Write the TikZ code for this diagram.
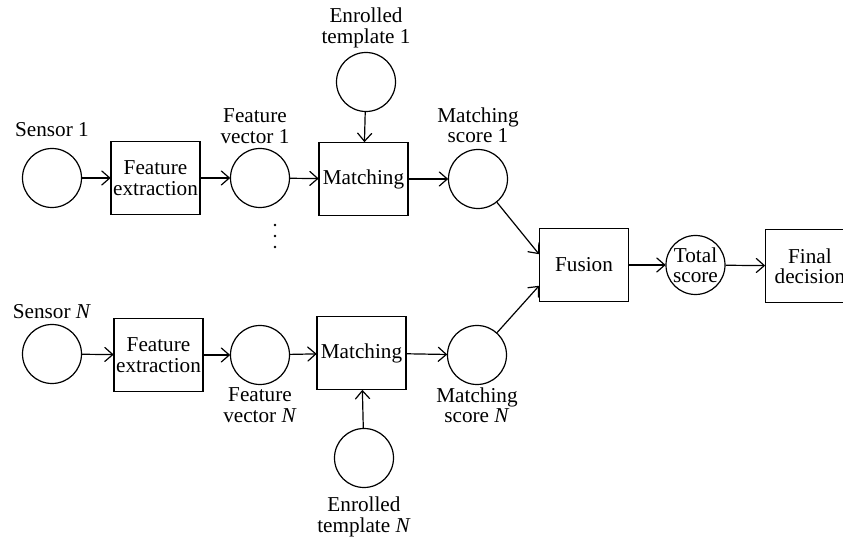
\documentclass[tikz,border=0pt]{standalone}
\usepackage{fontspec}
\setmainfont{Liberation Serif}
\usetikzlibrary{arrows.meta}
\begin{document}
\begin{tikzpicture}[x=0.5pt,y=-0.5pt,
  every node/.style={font=\fontsize{10.6}{10.2}\selectfont, align=center, inner sep=0pt},
  proc/.style={draw, line width=0.6pt, minimum width=44.5pt, minimum height=36.5pt},
  dot/.style={draw, circle, line width=0.6pt, minimum size=29.5pt},
  pt/.style={fill, circle, minimum size=1.4pt},
  lbl/.style={},
  conn/.style={line width=0.6pt},
  arr/.style={conn, -{Straight Barb[length=4pt,width=7pt,line width=0.6pt,round]}}]
\useasboundingbox (0,0) rectangle (843,539);
% row 1
\node[dot] (s1) at (52,178) {};
\node[proc] (fe1) at (155.5,178) {Feature\\extraction};
\node[dot] (fv1) at (260,178) {};
\node[proc] (m1) at (363.5,179) {Matching};
\node[dot] (ms1) at (478,179) {};
\node[dot] (et1) at (366,82) {};
% row N
\node[dot] (sN) at (52,354) {};
\node[proc] (feN) at (158.5,355) {Feature\\extraction};
\node[dot] (fvN) at (260,355) {};
\node[proc] (mN) at (361.5,353) {Matching};
\node[dot] (msN) at (477,355) {};
\node[dot] (etN) at (364,458) {};
% right part
\node[proc] (fu) at (584,265) {Fusion};
\node[dot] (ts) at (695.5,265) {Total\\score};
\node[proc] (fd) at (810,266) {Final\\decision};
% labels
\node[lbl] (ls1) at (52,130) {Sensor 1};
\node[lbl] (lsN) at (52,312) {Sensor \textit{N}};
\node[lbl] (lfv1) at (255,126) {Feature\\vector 1};
\node[lbl] (lfvN) at (260,405) {Feature\\vector \textit{N}};
\node[lbl] (let1) at (366,28) {Enrolled\\template 1};
\node[lbl] (letN) at (364,517) {Enrolled\\template \textit{N}};
\node[lbl] (lms1) at (478,125) {Matching\\score 1};
\node[lbl] (lmsN) at (477,405) {Matching\\score \textit{N}};
% vertical ellipsis
\node[pt] (d1) at (275,225) {};
\node[pt] (d2) at (275,236) {};
\node[pt] (d3) at (275,247) {};
% connectors row 1
\draw[arr] (s1) -- (fe1);
\draw[arr] (fe1) -- (fv1);
\draw[arr] (fv1) -- (m1);
\draw[arr] (m1) -- (ms1);
\draw[arr] (et1) -- (m1);
% connectors row N
\draw[arr] (sN) -- (feN);
\draw[arr] (feN) -- (fvN);
\draw[arr] (fvN) -- (mN);
\draw[arr] (mN) -- (msN);
\draw[arr] (etN) -- (mN);
% fusion
\draw[arr] (ms1) -- ([yshift=5.5pt]fu.west);
\draw[arr] (msN) -- ([yshift=-10.5pt]fu.west);
\draw[arr] (fu) -- (ts);
\draw[arr] (ts) -- (fd);
\end{tikzpicture}
\end{document}
